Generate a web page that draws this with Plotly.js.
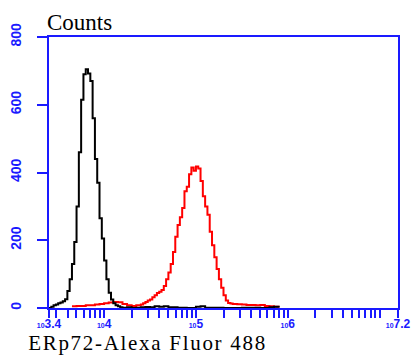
<!DOCTYPE html>
<html>
<head>
<meta charset="utf-8">
<script src="https://cdn.plot.ly/plotly-3.0.1.min.js"></script>
<style>
html,body{margin:0;padding:0;background:#fff;}
#chart{width:418px;height:356px;}
.annotation[data-index="1"] text{letter-spacing:1.7px;}
</style>
</head>
<body>
<div id="chart"></div>
<script>
// log10 of fluorescence intensity, and event counts
const blackLogX = [3.400,3.425,3.450,3.475,3.500,3.525,3.550,3.575,3.600,3.625,3.650,3.675,3.700,3.725,3.750,3.775,3.800,3.825,3.850,3.875,3.900,3.925,3.950,3.975,4.000,4.025,4.050,4.075,4.100,4.125,4.150,4.175,4.200,4.250,4.300,4.350,4.400,4.450,4.500,4.550,4.600,4.650,4.700,4.800,4.900,5.000,5.050,5.100,5.300,5.500,5.700,5.800,5.850,5.900];
const blackCounts = [0,4,8,10,14,16,20,26,50,85,130,195,300,460,615,690,705,692,670,560,440,370,265,205,140,85,45,25,14,8,5,2,1,2,0,1,2,3,2,5,4,5,2,1,0,4,5,1,0,1,0,2,4,1];

const redLogX = [3.650,3.700,3.750,3.800,3.850,3.900,3.950,4.000,4.050,4.100,4.150,4.200,4.250,4.300,4.350,4.400,4.425,4.450,4.475,4.500,4.525,4.550,4.575,4.600,4.625,4.650,4.675,4.700,4.725,4.750,4.775,4.800,4.825,4.850,4.875,4.900,4.925,4.950,4.975,5.000,5.025,5.050,5.075,5.100,5.125,5.150,5.175,5.200,5.225,5.250,5.275,5.300,5.325,5.350,5.375,5.400,5.450,5.500,5.550,5.600,5.650,5.700,5.750,5.800,5.850,5.900];
const redCounts = [5,6,6,8,8,10,12,14,16,18,17,12,8,6,8,10,14,18,22,25,32,38,44,48,53,65,85,105,130,165,210,245,268,295,345,358,395,415,405,418,412,375,330,300,275,225,185,150,115,85,60,38,22,15,13,12,11,10,9,9,8,9,6,5,4,2];

const yTicks = [0,200,400,600,800];
const xMajorExp = [3.4,4,5,6,7.2];
const xMajorLabels = ['3.4','4','5','6','7.2'];

const blue = '#1a1aff';

// ticks: axis ends, decades and 2..9 sub-decade marks
const tickvals = [], ticktext = [];
for (let d = 3; d <= 7; d++) {
  for (let m = 1; m <= 9; m++) {
    const v = m * Math.pow(10, d);
    const e = Math.log10(v);
    if (e >= 3.4 - 1e-9 && e <= 7.2 + 1e-9) { tickvals.push(v); ticktext.push(''); }
  }
}
xMajorExp.forEach((e, i) => {
  const v = Math.pow(10, e);
  const idx = tickvals.findIndex(t => Math.abs(Math.log10(t) - e) < 1e-6);
  const label = "<span style='font-size:7px'>10</span>" + xMajorLabels[i];
  if (idx >= 0) ticktext[idx] = label; else { tickvals.push(v); ticktext.push(label); }
});

const toX = arr => arr.map(e => Math.pow(10, e));

const traces = [
  {x: toX(redLogX), y: redCounts, type: 'scatter', mode: 'lines', line: {color: '#ff0000', width: 2, shape: 'hv'}, hoverinfo: 'skip'},
  {x: toX(blackLogX), y: blackCounts, type: 'scatter', mode: 'lines', line: {color: '#000000', width: 2, shape: 'hv'}, hoverinfo: 'skip'}
];

const layout = {
  width: 418, height: 356,
  margin: {l: 49, r: 20, t: 37, b: 48},
  paper_bgcolor: '#ffffff', plot_bgcolor: '#ffffff',
  showlegend: false,
  xaxis: {
    type: 'log', range: [3.4, 7.2],
    tickmode: 'array', tickvals: tickvals, ticktext: ticktext,
    ticks: 'outside', ticklen: 8, tickwidth: 2, tickcolor: blue,
    showline: true, linecolor: blue, linewidth: 2, mirror: true,
    showgrid: false, zeroline: false,
    tickangle: 0, ticklabelstandoff: -4,
    tickfont: {family: 'Liberation Sans, Arial, sans-serif', size: 12, color: blue, weight: 'bold'}
  },
  yaxis: {
    range: [0, 800],
    tickmode: 'array', tickvals: yTicks,
    ticks: 'outside', ticklen: 10, tickwidth: 2, tickcolor: blue,
    showline: true, linecolor: blue, linewidth: 2, mirror: true,
    showgrid: false, zeroline: false,
    tickangle: -90, ticklabelstandoff: 10,
    tickfont: {family: 'Liberation Sans, Arial, sans-serif', size: 14, color: blue, weight: 'bold'}
  },
  annotations: [
    {text: 'Counts', xref: 'paper', yref: 'paper', x: -0.0115, y: 1, xanchor: 'left', yanchor: 'bottom', yshift: 0, showarrow: false,
     font: {family: 'Liberation Serif, serif', size: 23, color: '#000000'}},
    {text: 'ERp72-Alexa Fluor 488', xref: 'paper', yref: 'paper', x: -0.0115, y: 0, xanchor: 'left', yanchor: 'bottom', yshift: -48, borderpad: 0, showarrow: false,
     font: {family: 'Liberation Serif, serif', size: 21, color: '#000000'}}
  ]
};

Plotly.newPlot('chart', traces, layout, {displayModeBar: false, staticPlot: true});
</script>
</body>
</html>
